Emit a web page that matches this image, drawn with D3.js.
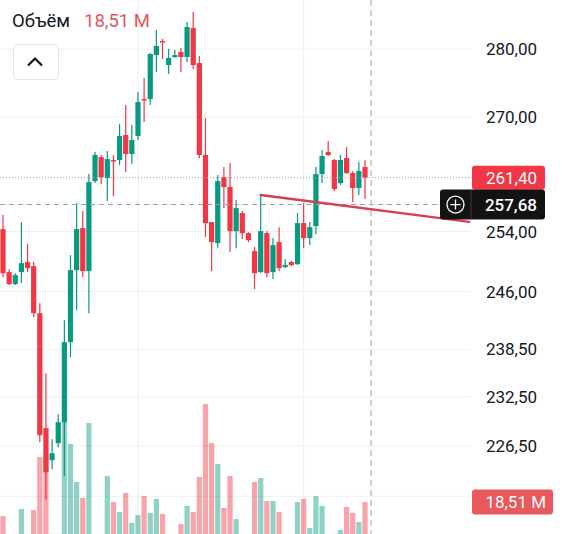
<!DOCTYPE html>
<html>
<head>
<meta charset="utf-8">
<script src="https://cdn.jsdelivr.net/npm/d3@7"></script>
<style>
  html, body { margin: 0; padding: 0; background: #fff; }
  svg { display: block; font-family: Roboto, "Noto Sans", sans-serif; }
</style>
</head>
<body>
<svg id="chart"></svg>
<script>
// candles (price units)
var opens  = [254.32,248.55,246.96,248.55,249.88,249.34,243.16,228.67,224.79,226.84,
              229.40,239.42,248.81,254.46,248.68,260.93,264.30,261.35,263.88,263.88,
              267.43,264.73,267.28,272.62,272.62,279.10,281.20,277.62,278.81,279.55,
              278.81,283.16,277.91,264.59,255.28,252.43,261.49,260.10,254.05,256.51,
              253.78,251.35,248.55,253.78,248.55,252.56,249.21,249.88,249.61,255.14,
              253.10,254.73,261.91,265.01,263.88,260.65,264.16,262.05,259.96,262.89];
var closes = [248.41,246.96,248.15,249.74,249.08,243.16,227.81,223.35,225.63,229.40,
              239.42,248.81,254.32,248.68,260.79,264.59,261.49,264.02,263.74,267.28,
              264.73,266.71,272.18,272.47,279.25,280.45,281.05,278.66,279.10,278.81,
              283.31,277.62,264.59,255.14,252.56,260.93,260.10,254.05,257.19,253.78,
              252.83,248.41,254.05,248.41,252.16,249.08,249.48,249.48,255.14,253.10,
              254.59,261.91,264.44,264.59,259.82,263.88,262.05,259.96,262.33,261.40];
var highs  = [256.25,248.94,248.41,255.28,252.29,249.88,244.46,235.48,227.33,230.38,
              242.25,250.81,257.88,256.78,261.91,265.01,264.59,265.15,264.59,269.00,
              271.74,268.86,273.64,275.69,279.40,282.86,281.50,280.00,279.85,280.15,
              284.07,285.59,278.95,269.87,255.28,261.77,262.89,263.46,258.30,256.78,
              253.91,251.89,258.99,254.05,253.10,254.59,250.28,250.01,256.51,257.88,
              255.28,262.89,265.29,266.57,264.02,264.59,265.72,262.33,263.60,263.88];
var lows   = [247.88,246.83,246.83,247.09,248.55,242.64,226.96,220.15,223.71,226.36,
              222.87,237.51,243.55,247.88,243.16,260.65,260.52,258.16,258.85,263.17,
              262.19,263.32,266.71,269.29,271.74,276.58,278.51,276.28,278.66,276.58,
              278.06,277.02,264.16,253.24,248.68,251.75,257.19,251.22,251.75,252.97,
              252.56,246.30,248.41,247.88,247.62,248.68,249.08,249.34,249.48,251.75,
              252.16,253.64,260.65,264.44,259.54,260.38,261.91,258.02,258.99,258.43];
// volume, millions
var volumes = [11.7, 2.5, 3.0,15.1, 2.5,14.6,40.4,41.4, 3.0, 3.0,
               57.5,46.8,28.3,20.5,57.0, 2.0, 2.0,31.2,18.5,13.6,
               22.9, 8.3,12.2,21.4,13.2,20.0,12.7, 2.0, 2.0, 7.8,
               16.6,13.6,30.7,66.2,47.2,37.0,15.6,31.2,10.2, 2.0,
                2.0,28.3,30.2,19.0,19.0,13.6, 2.0, 2.0,18.5,20.0,
                5.8,21.4,16.6, 2.5, 3.0, 4.9,16.1,13.2, 8.8,18.51];

var priceTicks = [280, 270, 254, 246, 238.5, 232.5, 226.5, 220.5];
var lastPrice = 261.40;
var crossPrice = 257.68;
var lastVolume = 18.51;
var trendFrom = [42, 258.99];
var trendTo = [76, 255.3];
var vGridAt = [22, 49];
var crossAt = 60;
var volumeTitle = "Объём";

var width = 562, height = 534;
var upColor = "#089981", downColor = "#f23645";
var upVol = "rgba(8,153,129,0.45)", downVol = "rgba(242,54,69,0.45)";

var svg = d3.select("#chart").attr("width", width).attr("height", height);

var n = opens.length;
var xScale = d3.scalePoint().domain(d3.range(n)).range([3, 365]);
var step = xScale.step();
function xAt(i) { return 3 + i * step; }
var candleW = 5.2;

// log price scale
var yScale = d3.scaleLog().domain([287.43, 216.1]).range([0, height]);
var vScale = d3.scaleLinear().domain([0, 70]).range([540, 396.3]);

var fmt = function(v) { return d3.format(".2f")(v).replace(".", ","); };
var plotRight = 470;

// grid
svg.append("g").selectAll("line").data(priceTicks).enter().append("line")
   .attr("x1", 0).attr("x2", plotRight)
   .attr("y1", function(d) { return yScale(d); })
   .attr("y2", function(d) { return yScale(d); })
   .attr("stroke", "#efefef").attr("stroke-width", 1);

svg.append("g").selectAll("line").data(vGridAt).enter().append("line")
   .attr("x1", function(d) { return xAt(d); }).attr("x2", function(d) { return xAt(d); })
   .attr("y1", 0).attr("y2", height)
   .attr("stroke", "#efefef").attr("stroke-width", 1);

// volume bars
svg.append("g").selectAll("rect").data(volumes).enter().append("rect")
   .attr("x", function(d, i) { return xAt(i) - candleW / 2; })
   .attr("y", function(d) { return vScale(d); })
   .attr("width", candleW)
   .attr("height", function(d) { return vScale(0) - vScale(d); })
   .attr("fill", function(d, i) { return closes[i] >= opens[i] ? upVol : downVol; });

// candles
var candles = svg.append("g").selectAll("g").data(d3.range(n)).enter().append("g");

candles.append("line")
   .attr("x1", function(i) { return xAt(i); })
   .attr("x2", function(i) { return xAt(i); })
   .attr("y1", function(i) { return yScale(highs[i]); })
   .attr("y2", function(i) { return yScale(lows[i]); })
   .attr("stroke", function(i) { return closes[i] >= opens[i] ? upColor : downColor; })
   .attr("stroke-width", 1.2);

candles.append("rect")
   .attr("x", function(i) { return xAt(i) - candleW / 2; })
   .attr("y", function(i) { return yScale(Math.max(opens[i], closes[i])); })
   .attr("width", candleW)
   .attr("height", function(i) {
       return Math.max(1.5, yScale(Math.min(opens[i], closes[i])) - yScale(Math.max(opens[i], closes[i])));
   })
   .attr("fill", function(i) { return closes[i] >= opens[i] ? upColor : downColor; });

// last price dotted line, crosshair dashed lines
svg.append("line")
   .attr("x1", 0).attr("x2", 472)
   .attr("y1", yScale(lastPrice)).attr("y2", yScale(lastPrice))
   .attr("stroke", "#9e9e9e").attr("stroke-width", 1).attr("stroke-dasharray", "1,2");

svg.append("line")
   .attr("x1", 0).attr("x2", 440)
   .attr("y1", yScale(crossPrice)).attr("y2", yScale(crossPrice))
   .attr("stroke", "#9e9e9e").attr("stroke-width", 1).attr("stroke-dasharray", "5,4");

svg.append("line")
   .attr("x1", xAt(crossAt)).attr("x2", xAt(crossAt))
   .attr("y1", 0).attr("y2", height)
   .attr("stroke", "#c4c4c4").attr("stroke-width", 1.6).attr("stroke-dasharray", "6,4");

// trend line
svg.append("line")
   .attr("x1", xAt(trendFrom[0])).attr("y1", yScale(trendFrom[1]))
   .attr("x2", xAt(trendTo[0])).attr("y2", yScale(trendTo[1]))
   .attr("stroke", "#d8404f").attr("stroke-width", 2.4).attr("stroke-linecap", "round");

// price axis labels
svg.append("g").selectAll("text").data(priceTicks).enter().append("text")
   .attr("x", 537)
   .attr("y", function(d) { return yScale(d); })
   .attr("dy", "0.36em")
   .attr("text-anchor", "end")
   .attr("font-size", "17px")
   .attr("fill", "#131722")
   .text(function(d) { return fmt(d); });

// last price tag
var ly = yScale(lastPrice);
svg.append("rect").attr("x", 472).attr("y", ly - 12).attr("width", 73).attr("height", 24)
   .attr("rx", 3).attr("fill", "#f23645");
svg.append("text").attr("x", 537).attr("y", ly).attr("dy", "0.36em")
   .attr("text-anchor", "end").attr("font-size", "17px").attr("fill", "#fff")
   .text(fmt(lastPrice));

// crosshair price tag
var cy = yScale(crossPrice);
svg.append("rect").attr("x", 440).attr("y", cy - 15).attr("width", 105).attr("height", 30)
   .attr("rx", 3).attr("fill", "#131313");
svg.append("line").attr("x1", 471).attr("x2", 471).attr("y1", cy - 15).attr("y2", cy + 15)
   .attr("stroke", "#3a3a3a").attr("stroke-width", 1);
svg.append("circle").attr("cx", 455.5).attr("cy", cy).attr("r", 8.5)
   .attr("fill", "none").attr("stroke", "#fff").attr("stroke-width", 1.3);
svg.append("path")
   .attr("d", "M" + 450.5 + "," + cy + "H" + 460.5 + "M" + 455.5 + "," + (cy - 5) + "V" + (cy + 5))
   .attr("stroke", "#fff").attr("stroke-width", 1.3);
svg.append("text").attr("x", 537).attr("y", cy).attr("dy", "0.36em")
   .attr("text-anchor", "end").attr("font-size", "17px").attr("font-weight", 500).attr("fill", "#fff")
   .text(fmt(crossPrice));

// volume tag
var vy = vScale(lastVolume);
svg.append("rect").attr("x", 472).attr("y", vy - 12.5).attr("width", 81).attr("height", 25)
   .attr("rx", 3).attr("fill", "#e8585c");
svg.append("text").attr("x", 546).attr("y", vy).attr("dy", "0.36em")
   .attr("text-anchor", "end").attr("font-size", "17px").attr("fill", "#fff")
   .text(lastVolume.toFixed(2).replace(".", ",") + " M");

// legend
svg.append("text").attr("x", 12).attr("y", 27).attr("font-size", "18.5px").attr("fill", "#131722")
   .text(volumeTitle);
svg.append("text").attr("x", 84).attr("y", 27).attr("font-size", "18.5px").attr("fill", "#e0585c")
   .text(lastVolume.toFixed(2).replace(".", ",") + " M");

// collapse button
svg.append("rect").attr("x", 13.5).attr("y", 44.5).attr("width", 45).attr("height", 35)
   .attr("rx", 5).attr("fill", "#fff").attr("stroke", "#e3e3e3");
svg.append("path").attr("d", "M28,65.5L35,58.5L42,65.5")
   .attr("fill", "none").attr("stroke", "#131722").attr("stroke-width", 2.2);
</script>
</body>
</html>
